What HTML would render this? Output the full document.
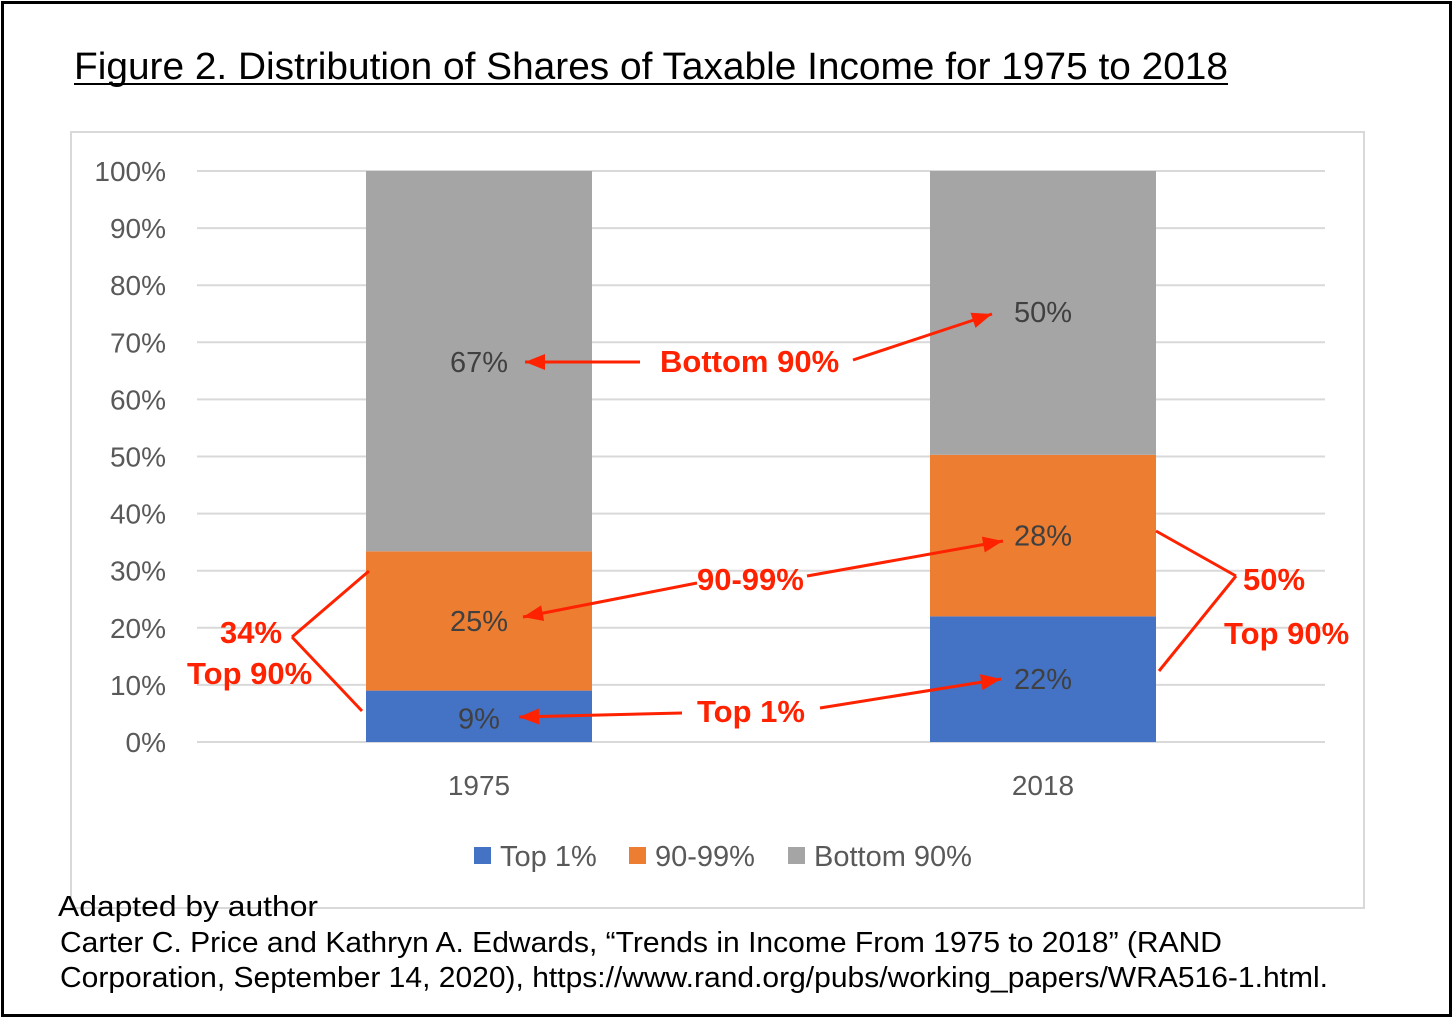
<!DOCTYPE html>
<html><head><meta charset="utf-8"><style>
html,body{margin:0;padding:0;background:#fff;}
body{width:1456px;height:1028px;position:relative;overflow:hidden;font-family:"Liberation Sans",sans-serif;}
</style></head><body>
<svg id="c" width="1456" height="1028" xmlns="http://www.w3.org/2000/svg">
<rect x="2.5" y="2.5" width="1448" height="1013" fill="#fff" stroke="#000" stroke-width="3"/>
<text x="74" y="79" font-size="38" fill="#000" textLength="1154" lengthAdjust="spacingAndGlyphs">Figure 2. Distribution of Shares of Taxable Income for 1975 to 2018</text>
<line x1="74" y1="84" x2="1228" y2="84" stroke="#000" stroke-width="2"/>
<rect x="71" y="132" width="1293" height="776" fill="#fff" stroke="#d9d9d9" stroke-width="2"/>
<g id="grid"></g><g id="bars"></g><g id="labels"></g>
<g id="legend"></g>
<g id="ann" fill="#ff2200" font-weight="bold" font-size="31"></g>
<text x="58" y="916" font-size="29" fill="#000" textLength="260" lengthAdjust="spacingAndGlyphs">Adapted by author</text>
<text x="60" y="952" font-size="29" fill="#000" textLength="1162" lengthAdjust="spacingAndGlyphs">Carter C. Price and Kathryn A. Edwards, “Trends in Income From 1975 to 2018” (RAND</text>
<text x="60" y="987" font-size="29" fill="#000" textLength="1268" lengthAdjust="spacingAndGlyphs">Corporation, September 14, 2020), https://www.rand.org/pubs/working_papers/WRA516-1.html.</text>
</svg>
<script>
const categories=["1975","2018"];
const top1=[9,22];
const mid=[24.4,28.3];
const bottom=[66.6,49.7];
const printed1=["9%","22%"];
const printed2=["25%","28%"];
const printed3=["67%","50%"];
const ticks=[0,10,20,30,40,50,60,70,80,90,100];
const ns="http://www.w3.org/2000/svg";
const y0=742,yTop=171;
const y=v=>y0-(y0-yTop)*v/100;
const xc=i=>[479,1043][i];
const bw=226;
function mk(t,a,p){const e=document.createElementNS(ns,t);for(const k in a)e.setAttribute(k,a[k]);p.appendChild(e);return e;}
const grid=document.getElementById('grid');
ticks.forEach(t=>{
 const l=mk('line',{x1:197,x2:1325,y1:y(t),y2:y(t),stroke:'#d9d9d9','stroke-width':2},grid);
 
 
 const tx=mk('text',{x:166,y:y(t)+10,'text-anchor':'end','font-size':28,fill:'#595959'},grid);
 tx.textContent=t+'%';
 
 
});
const bars=document.getElementById('bars'),labels=document.getElementById('labels');
const series=[[top1,'#4472c4',printed1],[mid,'#ed7d31',printed2],[bottom,'#a5a5a5',printed3]];
categories.forEach((c,i)=>{
 let base=0;
 series.forEach(([vals,col,pr],s)=>{
  const v=vals[i];
  const r=mk('rect',{x:xc(i)-bw/2,y:y(base+v),width:bw,height:y(base)-y(base+v),fill:col},bars);
  
  
  let ly=y(base+v/2)+10;
  if(i===0&&s===0) ly=y(base+v/2)+12;
  if(s===2) ly=[372,322][i];
  const t=mk('text',{x:xc(i),y:ly,'text-anchor':'middle','font-size':29,fill:'#404040'},labels);
  t.textContent=pr[i];
  
  
  base+=v;
 });
 const xl=mk('text',{x:xc(i),y:795,'text-anchor':'middle','font-size':28,fill:'#595959'},labels);
 xl.textContent=c;
 
 
});
const lg=document.getElementById('legend');
[['Top 1%','#4472c4',474],['90-99%','#ed7d31',629],['Bottom 90%','#a5a5a5',788]].forEach(([n,c,x])=>{
 const r=mk('rect',{x:x,y:847,width:17,height:17,fill:c},lg);
 
 
 const t=mk('text',{x:x+26,y:866,'font-size':29,fill:'#595959'},lg);
 t.textContent=n;
 
 
});
const ann=document.getElementById('ann');
const R='#ff2200';
function txt(s,x,yy,anchor){const t=mk('text',{x:x,y:yy,'text-anchor':anchor||'start'},ann);t.textContent=s;}
function line(x1,y1,x2,y2){const l=mk('line',{x1,y1,x2,y2,stroke:R,'stroke-width':3},ann);}
function arrow(x1,y1,x2,y2){line(x1,y1,x2,y2);const a=Math.atan2(y2-y1,x2-x1),L=20,W=8;
 const bx=x2-L*Math.cos(a),by=y2-L*Math.sin(a);
 const p=mk('polygon',{points:`${x2},${y2} ${bx-W*Math.sin(a)},${by+W*Math.cos(a)} ${bx+W*Math.sin(a)},${by-W*Math.cos(a)}`,fill:R},ann);
 }
txt('Bottom 90%',660,372);
arrow(640,362,525,362);
arrow(853,360,992,314);
txt('90-99%',697,590);
arrow(697,583,523,617);
arrow(807,576,1003,541);
txt('Top 1%',697,722);
arrow(682,713,519,717);
arrow(820,708,1001,679);
txt('34%',220,643);
txt('Top 90%',187,684);
line(292,637,369,571);line(292,637,362,711);
txt('50%',1243,590);
txt('Top 90%',1224,644);
line(1156,531,1236,576);line(1236,576,1159,671);
</script>
</body></html>
